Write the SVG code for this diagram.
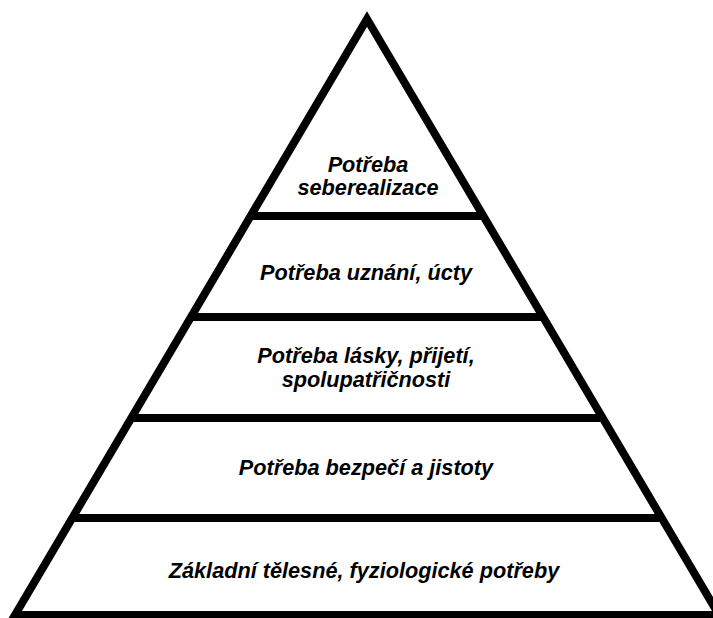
<svg xmlns="http://www.w3.org/2000/svg" width="713" height="618" viewBox="0 0 713 618">
<style>
.ln{stroke:#000;stroke-width:8;fill:none;stroke-linejoin:miter;stroke-miterlimit:10}
.t{font-family:"Liberation Sans",Arial,sans-serif;font-weight:bold;font-style:italic;font-size:21.7px;fill:#000;text-anchor:middle}
</style>
<rect width="713" height="618" fill="#fff"/>
<g id="connectors">
<polygon class="ln" points="367,19 15,615 719,615"/>
<line class="ln" x1="253" y1="216" x2="481" y2="216"/>
<line class="ln" x1="193" y1="317" x2="541" y2="317"/>
<line class="ln" x1="134" y1="418" x2="600" y2="418"/>
<line class="ln" x1="75" y1="518" x2="659" y2="518"/>
</g>
<g id="level5"><text class="t" x="368" y="172">Potřeba</text><text class="t" x="368" y="195">seberealizace</text></g>
<g id="level4"><text class="t" x="366" y="280">Potřeba uznání, úcty</text></g>
<g id="level3"><text class="t" x="366" y="363">Potřeba lásky, přijetí,</text><text class="t" x="366" y="387">spolupatřičnosti</text></g>
<g id="level2"><text class="t" x="366" y="475">Potřeba bezpečí a jistoty</text></g>
<g id="level1"><text class="t" x="364" y="578">Základní tělesné, fyziologické potřeby</text></g>
</svg>
